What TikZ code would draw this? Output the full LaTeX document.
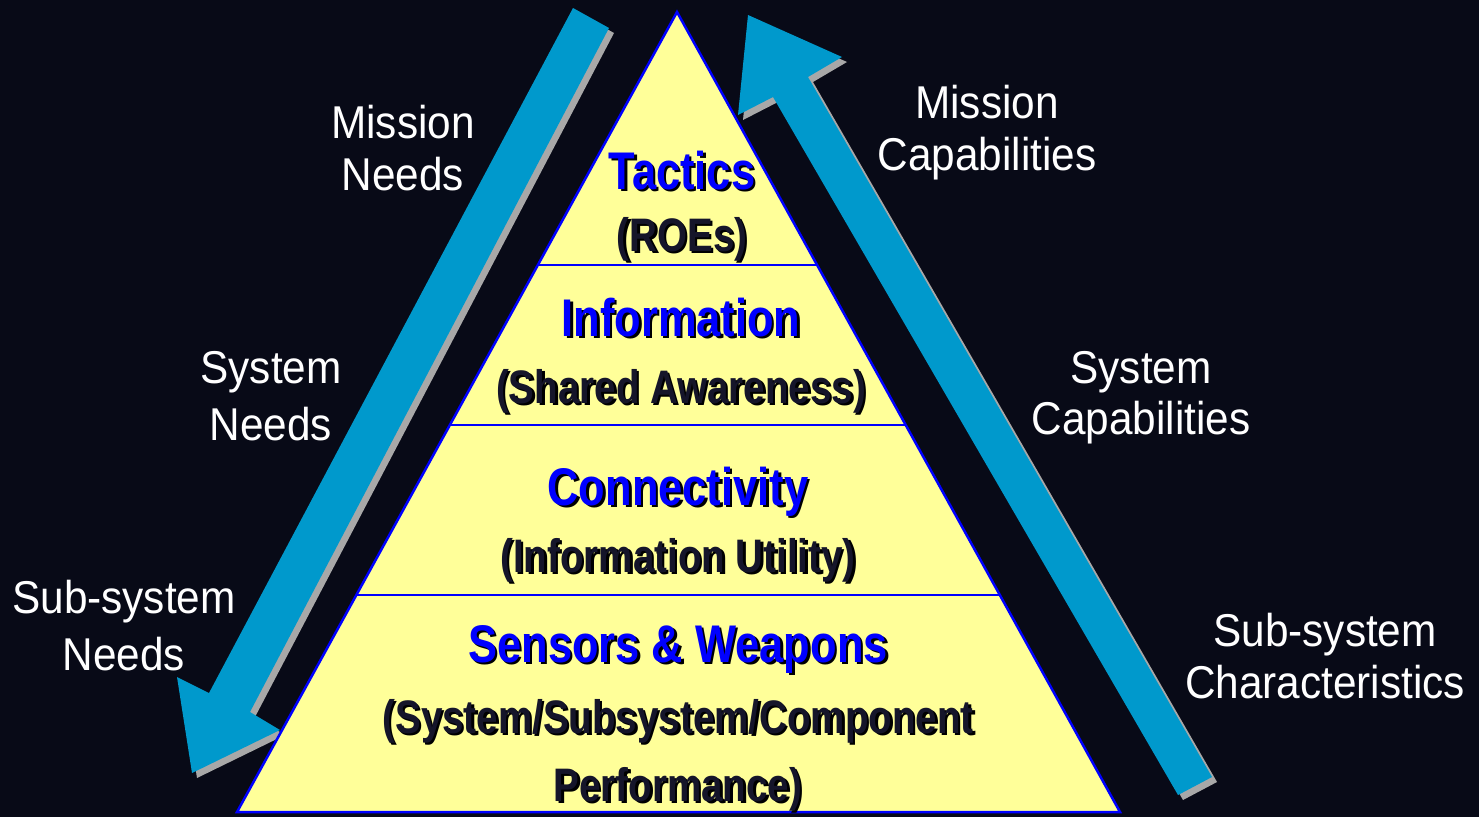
\documentclass[tikz,border=0pt]{standalone}
\usepackage{fontspec}
\setmainfont{Liberation Sans}
\newfontfamily\narrowfont[FakeStretch=0.82]{Liberation Sans}
\newfontfamily\labelfont[FakeStretch=0.92]{Liberation Sans}
\usetikzlibrary{calc}
\definecolor{bgcol}{HTML}{080A17}
\definecolor{arrowcol}{HTML}{0099CC}
\definecolor{shadowcol}{HTML}{A8A8A8}
\definecolor{pyrfill}{HTML}{FFFF99}
\definecolor{pyredge}{HTML}{0000FF}
\definecolor{titlecol}{HTML}{0000FF}
\definecolor{subcol}{HTML}{15152A}
\tikzset{
  bigarrow/.style={fill=arrowcol},
  arrowshadow/.style={fill=shadowcol},
  lbl/.style={anchor=base, inner sep=0pt, text=white, font=\labelfont\fontsize{46}{52}\selectfont},
  ttl/.style={anchor=base, inner sep=0pt, font=\narrowfont\bfseries\fontsize{53}{60}\selectfont},
  sub/.style={anchor=base, inner sep=0pt, font=\narrowfont\bfseries\fontsize{47}{54}\selectfont},
  divider/.style={draw=pyredge, line width=2pt},
}
\newcommand{\shadowed}[1]{\makebox[0pt][l]{\hspace{2.5pt}\raisebox{-2.5pt}{\color{black}#1}}#1}
\begin{document}
\begin{tikzpicture}[x=1pt,y=-1pt]
\fill[bgcol] (0,0) rectangle (1479,817);
\useasboundingbox (0,0) rectangle (1479,817);

% left arrow (down)
\begin{scope}[shift={(5,5)}]
\fill[arrowshadow] (573,8) -- (609,28) -- (250,712) -- (280,730) -- (192,773) -- (177,677) -- (209,693) -- cycle;
\end{scope}
\fill[bigarrow] (573,8) -- (609,28) -- (250,712) -- (280,730) -- (192,773) -- (177,677) -- (209,693) -- cycle;

% right arrow (up)
\begin{scope}[shift={(5,5)}]
\fill[arrowshadow] (1178,795) -- (1212,777) -- (808,77) -- (842,57) -- (748,15) -- (738,115) -- (773,97) -- cycle;
\end{scope}
\fill[bigarrow] (1178,795) -- (1212,777) -- (808,77) -- (842,57) -- (748,15) -- (738,115) -- (773,97) -- cycle;

% pyramid
\coordinate (apex) at (677,12);
\coordinate (bl) at (237,812);
\coordinate (br) at (1120,812);
\filldraw[fill=pyrfill, draw=pyredge, line width=2.5pt, line join=miter] (apex) -- (br) -- (bl) -- cycle;
\draw[divider] ($(apex)!0.316!(bl)$) -- ($(apex)!0.316!(br)$);
\draw[divider] ($(apex)!0.516!(bl)$) -- ($(apex)!0.516!(br)$);
\draw[divider] ($(apex)!0.729!(bl)$) -- ($(apex)!0.729!(br)$);

% pyramid texts
\node[ttl, text=titlecol] (tac) at (682,189) {\shadowed{Tactics}};
\node[sub, text=subcol] (roe) at (682,251) {\shadowed{(ROEs)}};
\node[ttl, text=titlecol] (inf) at (681,336) {\shadowed{Information}};
\node[sub, text=subcol] (sha) at (681,403) {\shadowed{(Shared Awareness)}};
\node[ttl, text=titlecol] (con) at (678,505) {\shadowed{Connectivity}};
\node[sub, text=subcol] (utl) at (678,572) {\shadowed{(Information Utility)}};
\node[ttl, text=titlecol] (sen) at (678,662) {\shadowed{Sensors \& Weapons}};
\node[sub, text=subcol] (ssc) at (678,733) {\shadowed{(System/Subsystem/Component}};
\node[sub, text=subcol] (prf) at (678,801) {\shadowed{Performance)}};

% side labels
\node[lbl] (mn1) at (403,138) {Mission};
\node[lbl] (mn2) at (403,190) {Needs};
\node[lbl] (sn1) at (271,383) {System};
\node[lbl] (sn2) at (271,440) {Needs};
\node[lbl] (ssn1) at (124,613) {Sub-system};
\node[lbl] (ssn2) at (124,670) {Needs};
\node[lbl] (mc1) at (987,118) {Mission};
\node[lbl] (mc2) at (987,170) {Capabilities};
\node[lbl] (sc1) at (1141,383) {System};
\node[lbl] (sc2) at (1141,434) {Capabilities};
\node[lbl] (ssc1) at (1325,646) {Sub-system};
\node[lbl] (ssc2) at (1325,698) {Characteristics};
\end{tikzpicture}
\end{document}
